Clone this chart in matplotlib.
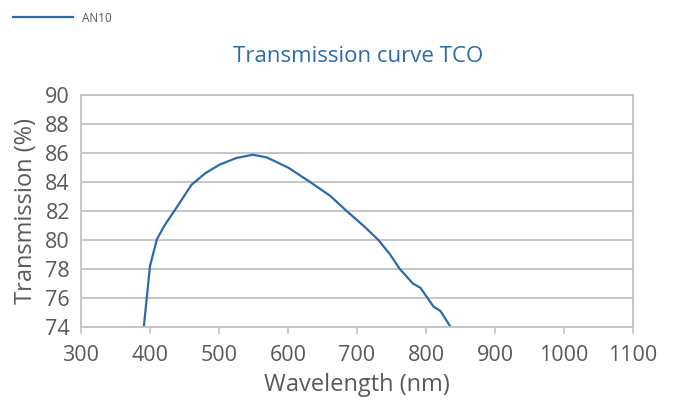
import matplotlib
matplotlib.use("Agg")
from matplotlib import pyplot as plt

# values
wavelength = [391, 400, 410, 421, 438, 460, 480, 501, 525, 549, 569, 600,
              632, 661, 685, 709, 731, 748, 762, 781, 792, 811, 821, 835]
transmission = [74.0, 78.2, 80.05, 81.0, 82.2, 83.8, 84.6, 85.2, 85.65, 85.88,
                85.7, 85.0, 84.0, 83.05, 82.0, 81.0, 80.0, 79.0, 78.0, 77.0,
                76.7, 75.4, 75.1, 74.05]

x_ticks = list(range(300, 1101, 100))
y_ticks = list(range(74, 91, 2))

plt.rcParams['font.family'] = ['Open Sans', 'DejaVu Sans']

BLUE = '#2b6aab'
GRID = '#bfc1c4'
TEXT = '#595959'

fig = plt.figure(figsize=(6.75, 4), dpi=100)
ax = fig.add_axes([81 / 675, 1 - 327 / 400, (633 - 81) / 675, (327 - 95) / 400])

ax.plot(wavelength, transmission, color=BLUE, lw=1.6, label='AN10')

ax.set_xlim(300, 1100)
ax.set_ylim(74, 90)
ax.set_xticks(x_ticks)
ax.set_yticks(y_ticks)
ax.yaxis.grid(True, color=GRID, lw=1.3)
ax.set_axisbelow(True)

for s in ax.spines.values():
    s.set_color(GRID)
    s.set_linewidth(1.3)

ax.tick_params(axis='x', direction='out', length=5, width=1.2, color=GRID,
               labelsize=15.5, labelcolor=TEXT, pad=8)
ax.tick_params(axis='y', length=0, labelsize=15.5, labelcolor=TEXT, pad=8)

ax.set_xlabel('Wavelength (nm)', fontsize=17, color=TEXT, labelpad=5)
ax.set_ylabel('Transmission (%)', fontsize=17, color=TEXT, labelpad=5)

fig.text(358 / 675, 1 - 57 / 400, 'Transmission curve TCO', color=BLUE,
         fontsize=16, ha='center', va='center')

fig.legend(loc='center left', bbox_to_anchor=(13 / 675, 1 - 18 / 400),
           frameon=False, fontsize=8.5, handlelength=5.1, handletextpad=0.76,
           borderaxespad=0, borderpad=0, labelcolor=TEXT)

fig.savefig('out.png', dpi=100)
